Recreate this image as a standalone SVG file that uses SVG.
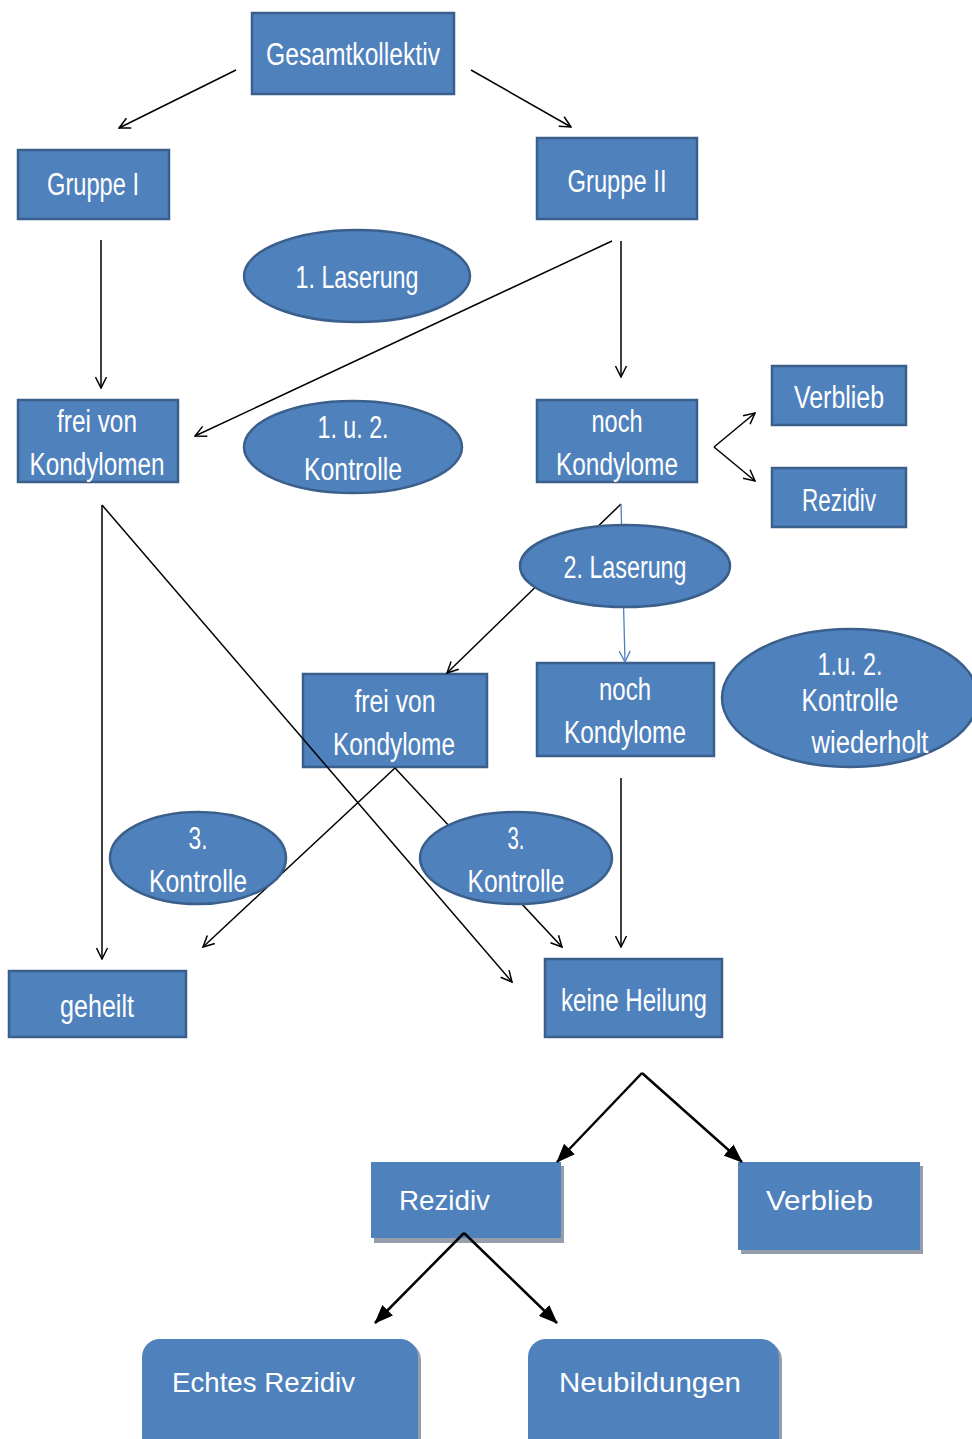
<svg xmlns="http://www.w3.org/2000/svg" width="972" height="1439" viewBox="0 0 972 1439">
<style>
.box{fill:#4F81BD;stroke:#3A5F8B;stroke-width:2.5}
.ell{fill:#4F81BD;stroke:#3A5F8B;stroke-width:2.5}
.bbox{fill:#4F81BD}
.shadow{fill:#959EAD}
.t{font-family:"Liberation Sans Narrow","Liberation Sans",Arial,sans-serif;font-size:31px;fill:#FFFFFF;text-anchor:middle}
.tb{font-family:"Liberation Sans",Arial,sans-serif;font-size:28px;fill:#FFFFFF}
.ln{fill:none;stroke:#000;stroke-width:1.5}
.lb{fill:none;stroke:#4F81BD;stroke-width:1.3}
.lk{fill:none;stroke:#000;stroke-width:2.5}
</style>
<defs>
<marker id="open" markerWidth="13" markerHeight="13" refX="12" refY="6.5" orient="auto" markerUnits="userSpaceOnUse"><path d="M1,1 L12,6.5 L1,12" fill="none" stroke="#000" stroke-width="1.5"/></marker>
<marker id="openb" markerWidth="13" markerHeight="13" refX="12" refY="6.5" orient="auto" markerUnits="userSpaceOnUse"><path d="M1,1 L12,6.5 L1,12" fill="none" stroke="#4F81BD" stroke-width="1.3"/></marker>
<marker id="solid" markerWidth="19" markerHeight="15" refX="18" refY="7.5" orient="auto" markerUnits="userSpaceOnUse"><path d="M0,0 L19,7.5 L0,15 z" fill="#000"/></marker>
</defs>

<!-- box nodes -->
<g id="gesamtkollektiv"><rect class="box" x="252" y="13" width="202" height="81"/><text class="t" x="353" y="65" textLength="174" lengthAdjust="spacingAndGlyphs">Gesamtkollektiv</text></g>
<g id="gruppe1"><rect class="box" x="18" y="150" width="151" height="69"/><text class="t" x="93" y="195" textLength="92" lengthAdjust="spacingAndGlyphs">Gruppe I</text></g>
<g id="gruppe2"><rect class="box" x="537" y="138" width="160" height="81"/><text class="t" x="617" y="192" textLength="99" lengthAdjust="spacingAndGlyphs">Gruppe II</text></g>
<g id="frei1"><rect class="box" x="18" y="400" width="160" height="82"/><text class="t" x="97" y="432" textLength="80" lengthAdjust="spacingAndGlyphs">frei von</text><text class="t" x="97" y="475" textLength="135" lengthAdjust="spacingAndGlyphs">Kondylomen</text></g>
<g id="noch1"><rect class="box" x="537" y="400" width="160" height="82"/><text class="t" x="617" y="432" textLength="51" lengthAdjust="spacingAndGlyphs">noch</text><text class="t" x="617" y="475" textLength="122" lengthAdjust="spacingAndGlyphs">Kondylome</text></g>
<g id="verblieb1"><rect class="box" x="772" y="366" width="134" height="59"/><text class="t" x="839" y="408" textLength="90" lengthAdjust="spacingAndGlyphs">Verblieb</text></g>
<g id="rezidiv1"><rect class="box" x="772" y="468" width="134" height="59"/><text class="t" x="839" y="511" textLength="74" lengthAdjust="spacingAndGlyphs">Rezidiv</text></g>
<g id="frei2"><rect class="box" x="303" y="674" width="184" height="93"/><text class="t" x="395" y="712" textLength="81" lengthAdjust="spacingAndGlyphs">frei von</text><text class="t" x="394" y="755" textLength="122" lengthAdjust="spacingAndGlyphs">Kondylome</text></g>
<g id="noch2"><rect class="box" x="537" y="663" width="177" height="93"/><text class="t" x="625" y="700" textLength="52" lengthAdjust="spacingAndGlyphs">noch</text><text class="t" x="625" y="743" textLength="122" lengthAdjust="spacingAndGlyphs">Kondylome</text></g>
<g id="geheilt"><rect class="box" x="9" y="971" width="177" height="66"/><text class="t" x="97" y="1017" textLength="74" lengthAdjust="spacingAndGlyphs">geheilt</text></g>
<g id="keineHeilung"><rect class="box" x="545" y="959" width="177" height="78"/><text class="t" x="634" y="1011" textLength="146" lengthAdjust="spacingAndGlyphs">keine Heilung</text></g>

<!-- bottom nodes -->
<g id="rezidiv2"><rect class="shadow" x="374" y="1166" width="190" height="77"/><rect class="bbox" x="371" y="1162" width="190" height="76"/><text class="tb" x="399" y="1210" textLength="91" lengthAdjust="spacingAndGlyphs">Rezidiv</text></g>
<g id="verblieb2"><rect class="shadow" x="741" y="1166" width="182" height="88"/><rect class="bbox" x="738" y="1162" width="182" height="88"/><text class="tb" x="766" y="1210" textLength="107" lengthAdjust="spacingAndGlyphs">Verblieb</text></g>
<g id="echtesRezidiv"><rect class="shadow" x="145" y="1342" width="276" height="120" rx="18"/><rect class="bbox" x="142" y="1339" width="276" height="120" rx="18"/><text class="tb" x="172" y="1392" textLength="183" lengthAdjust="spacingAndGlyphs">Echtes Rezidiv</text></g>
<g id="neubildungen"><rect class="shadow" x="531" y="1342" width="251" height="120" rx="18"/><rect class="bbox" x="528" y="1339" width="251" height="120" rx="18"/><text class="tb" x="559" y="1392" textLength="182" lengthAdjust="spacingAndGlyphs">Neubildungen</text></g>

<!-- connectors -->
<g id="connectors">
<line class="ln" x1="236" y1="70" x2="119" y2="128" marker-end="url(#open)"/>
<line class="ln" x1="471" y1="70" x2="571" y2="127" marker-end="url(#open)"/>
<line class="ln" x1="101" y1="240" x2="101" y2="388" marker-end="url(#open)"/>
<line class="ln" x1="612" y1="241" x2="195" y2="436" marker-end="url(#open)"/>
<line class="ln" x1="621" y1="241" x2="621" y2="377" marker-end="url(#open)"/>
<line class="ln" x1="714" y1="447" x2="755" y2="413" marker-end="url(#open)"/>
<line class="ln" x1="714" y1="447" x2="755" y2="481" marker-end="url(#open)"/>
<line class="ln" x1="102" y1="505" x2="102" y2="959" marker-end="url(#open)"/>
<line class="ln" x1="102" y1="505" x2="512" y2="982" marker-end="url(#open)"/>
<line class="ln" x1="621" y1="504" x2="447" y2="673" marker-end="url(#open)"/>
<line class="lb" x1="621" y1="504" x2="625" y2="662" marker-end="url(#openb)"/>
<line class="ln" x1="395" y1="768" x2="203" y2="947" marker-end="url(#open)"/>
<line class="ln" x1="395" y1="768" x2="562" y2="947" marker-end="url(#open)"/>
<line class="ln" x1="621" y1="778" x2="621" y2="947" marker-end="url(#open)"/>
<line class="lk" x1="642" y1="1073" x2="557" y2="1162" marker-end="url(#solid)"/>
<line class="lk" x1="642" y1="1073" x2="742" y2="1162" marker-end="url(#solid)"/>
<line class="lk" x1="464" y1="1233" x2="375" y2="1323" marker-end="url(#solid)"/>
<line class="lk" x1="464" y1="1233" x2="557" y2="1323" marker-end="url(#solid)"/>
</g>

<!-- ellipse nodes -->
<g id="laserung1"><ellipse class="ell" cx="357" cy="276" rx="113" ry="46"/><text class="t" x="357" y="288" textLength="123" lengthAdjust="spacingAndGlyphs">1. Laserung</text></g>
<g id="kontrolle12"><ellipse class="ell" cx="353" cy="447" rx="109" ry="46"/><text class="t" x="353" y="438" textLength="71" lengthAdjust="spacingAndGlyphs">1. u. 2.</text><text class="t" x="353" y="480" textLength="98" lengthAdjust="spacingAndGlyphs">Kontrolle</text></g>
<g id="laserung2"><ellipse class="ell" cx="625" cy="566" rx="105" ry="41"/><text class="t" x="625" y="578" textLength="123" lengthAdjust="spacingAndGlyphs">2. Laserung</text></g>
<g id="kontrolleWdh"><ellipse class="ell" cx="850" cy="698" rx="128" ry="69"/><text class="t" x="850" y="675" textLength="65" lengthAdjust="spacingAndGlyphs">1.u. 2.</text><text class="t" x="850" y="711" textLength="97" lengthAdjust="spacingAndGlyphs">Kontrolle</text><text class="t" x="870" y="753" textLength="117" lengthAdjust="spacingAndGlyphs">wiederholt</text></g>
<g id="kontrolle3a"><ellipse class="ell" cx="198" cy="858" rx="88" ry="46"/><text class="t" x="198" y="849" textLength="19" lengthAdjust="spacingAndGlyphs">3.</text><text class="t" x="198" y="892" textLength="98" lengthAdjust="spacingAndGlyphs">Kontrolle</text></g>
<g id="kontrolle3b"><ellipse class="ell" cx="516" cy="858" rx="96" ry="46"/><text class="t" x="516" y="849" textLength="17" lengthAdjust="spacingAndGlyphs">3.</text><text class="t" x="516" y="892" textLength="97" lengthAdjust="spacingAndGlyphs">Kontrolle</text></g>
</svg>
